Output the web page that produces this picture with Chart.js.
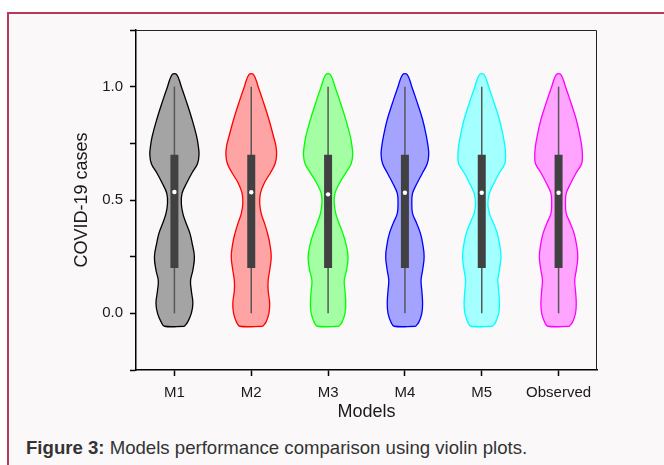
<!DOCTYPE html>
<html>
<head>
<meta charset="utf-8">
<script src="https://cdn.jsdelivr.net/npm/chart.js@4/dist/chart.umd.min.js"></script>
<style>
  html, body { margin:0; padding:0; background:#fff; width:664px; height:465px; overflow:hidden; }
  #frame { position:absolute; left:7px; top:12px; width:700px; height:500px; background:#faf8f9;
           border-left:2px solid #b8385c; border-top:2px solid #b8385c; }
  #wrap { position:absolute; left:0; top:0; width:664px; height:426px; }
  #caption { position:absolute; left:26px; top:437px; font-size:18.6px; font-family:"Liberation Sans", Arial, sans-serif;
             color:#333; white-space:nowrap; }
</style>
</head>
<body>
<div id="frame"></div>
<div id="wrap"><canvas id="chart"></canvas></div>
<div id="caption"><b>Figure 3:</b> Models performance comparison using violin plots.</div>
<script>
// categories
const models = ['M1', 'M2', 'M3', 'M4', 'M5', 'Observed'];

// violin outline: value levels and half-widths (in category units) at each level
const levels = [-0.057, -0.04, 0.0, 0.045, 0.10, 0.145, 0.19, 0.25, 0.31, 0.355, 0.40, 0.44,
                0.485, 0.53, 0.575, 0.62, 0.66, 0.70, 0.74, 0.78, 0.855, 0.93, 1.0, 1.053];
const m1Width  = [0.13, 0.17, 0.22, 0.24, 0.22, 0.21, 0.24, 0.26, 0.23, 0.20, 0.15, 0.11, 0.09, 0.10, 0.16, 0.23, 0.30, 0.32, 0.31, 0.29, 0.23, 0.16, 0.09, 0.03];
const m2Width  = [0.15, 0.19, 0.23, 0.24, 0.22, 0.22, 0.24, 0.26, 0.24, 0.21, 0.17, 0.13, 0.11, 0.12, 0.17, 0.25, 0.31, 0.33, 0.32, 0.29, 0.23, 0.16, 0.09, 0.03];
const m3Width  = [0.14, 0.18, 0.22, 0.23, 0.22, 0.21, 0.24, 0.26, 0.23, 0.19, 0.14, 0.10, 0.08, 0.09, 0.15, 0.23, 0.30, 0.32, 0.31, 0.29, 0.23, 0.16, 0.09, 0.03];
const m4Width  = [0.14, 0.18, 0.22, 0.23, 0.22, 0.21, 0.23, 0.25, 0.23, 0.20, 0.15, 0.10, 0.09, 0.10, 0.16, 0.23, 0.29, 0.31, 0.30, 0.28, 0.23, 0.16, 0.09, 0.03];
const m5Width  = [0.14, 0.18, 0.22, 0.23, 0.22, 0.21, 0.23, 0.25, 0.23, 0.20, 0.15, 0.10, 0.08, 0.10, 0.16, 0.23, 0.30, 0.31, 0.30, 0.28, 0.23, 0.16, 0.09, 0.03];
const obsWidth = [0.14, 0.18, 0.22, 0.23, 0.22, 0.21, 0.23, 0.25, 0.23, 0.20, 0.15, 0.10, 0.09, 0.10, 0.16, 0.23, 0.30, 0.31, 0.30, 0.28, 0.23, 0.16, 0.09, 0.03];
const widths = [m1Width, m2Width, m3Width, m4Width, m5Width, obsWidth];

// box plot stats
const q1 = [0.20, 0.20, 0.20, 0.20, 0.20, 0.20];
const q3 = [0.70, 0.70, 0.70, 0.70, 0.70, 0.70];
const medians = [0.535, 0.534, 0.525, 0.532, 0.532, 0.532];
const whiskerLow = [0, 0, 0, 0, 0, 0];
const whiskerHigh = [1.0, 1.0, 1.0, 1.0, 1.0, 1.0];

// axis tick labels
const yLabels = [0, 0.5, 1.0];

const lineColors = ['#000000', '#ff0000', '#00ff00', '#0000ff', '#00ffff', '#ff00ff'];
const fillColors = ['#a4a4a4', '#ffa4a4', '#a4ffa4', '#a4a4ff', '#a4ffff', '#ffa4ff'];

const font = { family: '"Liberation Sans", Arial, sans-serif', size: 15 };
const titleFont = { family: '"Liberation Sans", Arial, sans-serif', size: 18 };

let datasets = [];
models.forEach((m, i) => {
  const c = i + 1;
  const w = widths[i];
  const right = levels.map((y, k) => ({ x: c + w[k], y: y }));
  const left = levels.map((y, k) => ({ x: c - w[k], y: y })).reverse();
  const outline = right.concat(left, [right[0]]);
  datasets.push({
    data: outline, showLine: true, fill: 'shape', tension: 0.4,
    borderColor: lineColors[i], backgroundColor: fillColors[i], borderWidth: 1.3,
    pointRadius: 0, order: 4
  });
  datasets.push({
    data: [{ x: c, y: whiskerLow[i] }, { x: c, y: whiskerHigh[i] }], showLine: true,
    borderColor: '#575757', borderWidth: 1.5, pointRadius: 0, order: 3
  });
  datasets.push({
    data: [{ x: c, y: q1[i] }, { x: c, y: q3[i] }], showLine: true,
    borderColor: '#414141', borderWidth: 8, borderCapStyle: 'butt', pointRadius: 0, order: 2
  });
  datasets.push({
    data: [{ x: c, y: medians[i] }], pointRadius: 2.2, pointBackgroundColor: '#ffffff',
    pointBorderWidth: 0, order: 1
  });
});

// top and right lines of the plot box
const frame = {
  id: 'frame',
  afterDraw(chart) {
    const { ctx, chartArea: a } = chart;
    ctx.save();
    ctx.strokeStyle = '#222';
    ctx.lineWidth = 1;
    ctx.beginPath();
    ctx.moveTo(a.left, a.top + 0.5);
    ctx.lineTo(a.right - 0.5, a.top + 0.5);
    ctx.lineTo(a.right - 0.5, a.bottom);
    ctx.stroke();
    ctx.restore();
  }
};

new Chart(document.getElementById('chart'), {
  type: 'scatter',
  data: { datasets: datasets },
  options: {
    responsive: true,
    maintainAspectRatio: false,
    animation: false,
    layout: { padding: { left: 60, top: 30, right: 67, bottom: 0 } },
    plugins: { legend: { display: false }, tooltip: { enabled: false } },
    scales: {
      x: {
        type: 'linear', min: 0.5, max: 6.5,
        afterBuildTicks: s => { s.ticks = models.map((m, i) => ({ value: i + 1 })); },
        afterFit: s => { s.height = 56; },
        ticks: { callback: v => models[Math.round(v) - 1] || '', autoSkip: false, maxRotation: 0,
                 padding: 8, font: font, color: '#1a1a1a' },
        grid: { drawOnChartArea: false, drawTicks: true, tickLength: 6, tickColor: '#000', tickWidth: 1.5 },
        border: { display: true, color: '#000', width: 1.5 },
        title: { display: true, text: 'Models', font: titleFont, color: '#1a1a1a', padding: { top: 0, bottom: 3 } }
      },
      y: {
        min: -0.25, max: 1.25,
        afterFit: s => { s.width = 76; },
        ticks: { stepSize: 0.25, padding: 7, font: font, color: '#1a1a1a',
                 callback: v => yLabels.some(t => Math.abs(t - v) < 1e-9) ? v.toFixed(1) : '' },
        grid: { drawOnChartArea: false, drawTicks: true, tickLength: 6, tickColor: '#000', tickWidth: 1.5 },
        border: { display: true, color: '#000', width: 1.5 },
        title: { display: true, text: 'COVID-19 cases', font: titleFont, color: '#1a1a1a', padding: { top: 11, bottom: 0 } }
      }
    }
  },
  plugins: [frame]
});
</script>
</body>
</html>
